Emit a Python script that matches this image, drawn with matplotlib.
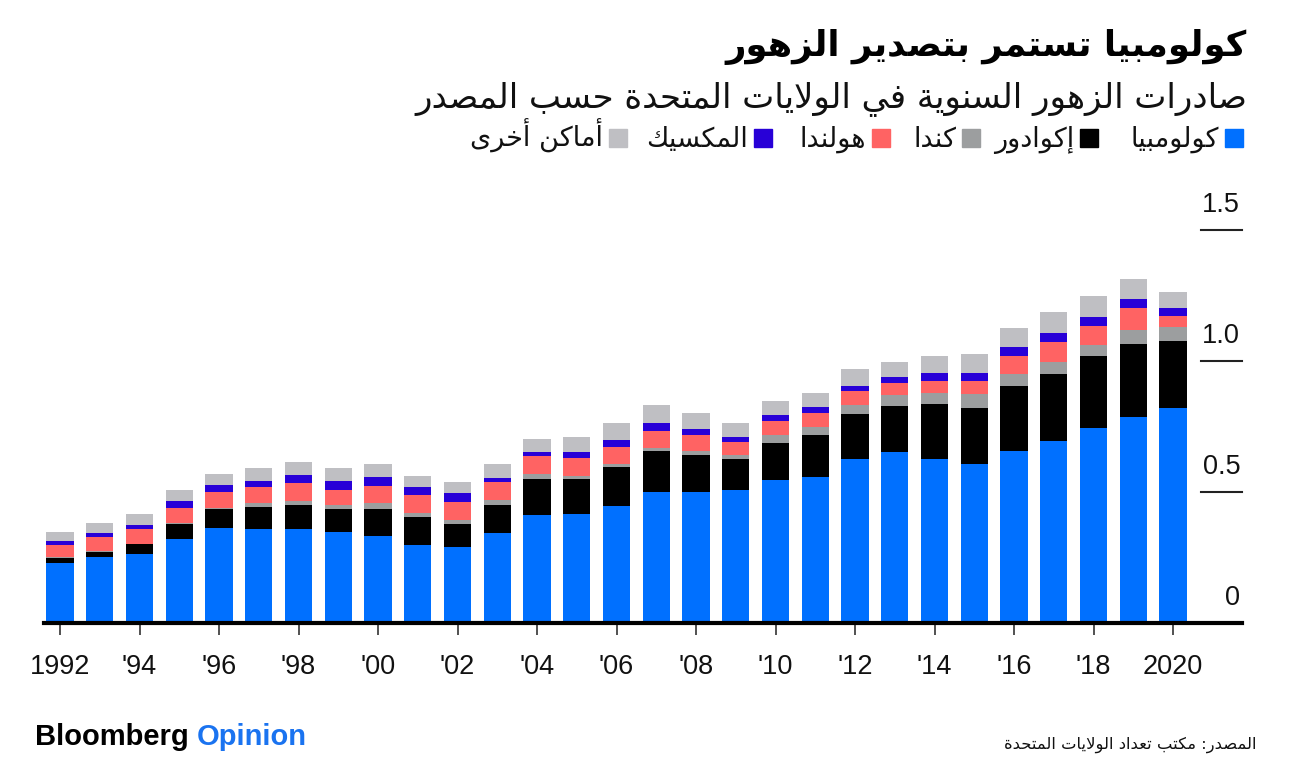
import matplotlib
matplotlib.use("Agg")
import matplotlib.pyplot as plt
from matplotlib.patches import Rectangle
from matplotlib.transforms import blended_transform_factory, offset_copy

# data (billion $)
years = list(range(1992, 2021))
colombia = [0.230, 0.253, 0.263, 0.319, 0.364, 0.359, 0.359, 0.346, 0.333, 0.298,
            0.290, 0.343, 0.411, 0.416, 0.447, 0.501, 0.501, 0.508, 0.546, 0.558,
            0.627, 0.654, 0.625, 0.608, 0.658, 0.696, 0.743, 0.786, 0.819]
ecuador = [0.018, 0.018, 0.037, 0.059, 0.070, 0.082, 0.093, 0.088, 0.101, 0.108,
           0.087, 0.107, 0.139, 0.135, 0.147, 0.154, 0.140, 0.118, 0.140, 0.160,
           0.171, 0.175, 0.212, 0.213, 0.247, 0.256, 0.277, 0.278, 0.256]
canada = [0.003, 0.004, 0.003, 0.004, 0.006, 0.016, 0.014, 0.015, 0.023, 0.015,
          0.016, 0.019, 0.019, 0.010, 0.013, 0.012, 0.017, 0.015, 0.032, 0.031,
          0.034, 0.041, 0.040, 0.052, 0.045, 0.045, 0.040, 0.055, 0.053]
netherlands = [0.047, 0.053, 0.056, 0.057, 0.061, 0.061, 0.067, 0.060, 0.067, 0.066,
               0.070, 0.069, 0.068, 0.070, 0.066, 0.067, 0.061, 0.049, 0.054, 0.054,
               0.053, 0.047, 0.047, 0.049, 0.070, 0.077, 0.075, 0.084, 0.044]
mexico = [0.016, 0.017, 0.015, 0.025, 0.025, 0.023, 0.031, 0.032, 0.032, 0.033,
          0.032, 0.017, 0.017, 0.023, 0.024, 0.031, 0.023, 0.021, 0.022, 0.023,
          0.021, 0.023, 0.031, 0.033, 0.035, 0.032, 0.033, 0.032, 0.031]
others = [0.035, 0.038, 0.042, 0.044, 0.043, 0.051, 0.051, 0.051, 0.051, 0.042,
          0.043, 0.052, 0.048, 0.056, 0.065, 0.067, 0.058, 0.051, 0.053, 0.053,
          0.063, 0.056, 0.064, 0.072, 0.072, 0.081, 0.080, 0.078, 0.059]

series_names = ["كولومبيا", "إكوادور", "كندا", "هولندا", "المكسيك", "أماكن أخرى"]
series_values = [colombia, ecuador, canada, netherlands, mexico, others]
colors = ["#0070ff", "#000000", "#9c9e9f", "#ff6363", "#2800d7", "#bfbfc3"]

xtick_years = list(range(1992, 2021, 2))
xtick_labels = ["1992", "'94", "'96", "'98", "'00", "'02", "'04", "'06", "'08",
                "'10", "'12", "'14", "'16", "'18", "2020"]
ytick_values = [0, 0.5, 1.0, 1.5]
ytick_labels = ["0", "0.5", "1.0", "1.5"]

title = "كولومبيا تستمر بتصدير الزهور"
subtitle = "صادرات الزهور السنوية في الولايات المتحدة حسب المصدر"
source = "المصدر: مكتب تعداد الولايات المتحدة"

# matplotlib has no arabic shaping: pick presentation forms and reverse
FORMS = {
    'ء': (0xFE80, 1), 'آ': (0xFE81, 2), 'أ': (0xFE83, 2), 'ؤ': (0xFE85, 2),
    'إ': (0xFE87, 2), 'ئ': (0xFE89, 4), 'ا': (0xFE8D, 2), 'ب': (0xFE8F, 4),
    'ة': (0xFE93, 2), 'ت': (0xFE95, 4), 'ث': (0xFE99, 4), 'ج': (0xFE9D, 4),
    'ح': (0xFEA1, 4), 'خ': (0xFEA5, 4), 'د': (0xFEA9, 2), 'ذ': (0xFEAB, 2),
    'ر': (0xFEAD, 2), 'ز': (0xFEAF, 2), 'س': (0xFEB1, 4), 'ش': (0xFEB5, 4),
    'ص': (0xFEB9, 4), 'ض': (0xFEBD, 4), 'ط': (0xFEC1, 4), 'ظ': (0xFEC5, 4),
    'ع': (0xFEC9, 4), 'غ': (0xFECD, 4), 'ف': (0xFED1, 4), 'ق': (0xFED5, 4),
    'ك': (0xFED9, 4), 'ل': (0xFEDD, 4), 'م': (0xFEE1, 4), 'ن': (0xFEE5, 4),
    'ه': (0xFEE9, 4), 'و': (0xFEED, 2), 'ى': (0xFEEF, 2), 'ي': (0xFEF1, 4),
}
LAM_ALEF = {'آ': 0xFEF5, 'أ': 0xFEF7, 'إ': 0xFEF9, 'ا': 0xFEFB}


def shape(s):
    out = []
    prev = None
    i = 0
    while i < len(s):
        c = s[i]
        if c not in FORMS:
            out.append(c)
            prev = None
            i += 1
            continue
        link_prev = prev is not None and FORMS[prev][1] == 4
        nxt = s[i + 1] if i + 1 < len(s) else None
        if c == 'ل' and nxt in LAM_ALEF:
            out.append(chr(LAM_ALEF[nxt] + (1 if link_prev else 0)))
            prev = nxt
            i += 2
            continue
        base, nf = FORMS[c]
        link_next = nf == 4 and nxt in FORMS and FORMS[nxt][1] > 1
        if nf == 1:
            k = 0
        elif link_prev and link_next:
            k = 3
        elif link_prev:
            k = 1
        elif link_next:
            k = 2
        else:
            k = 0
        out.append(chr(base + k))
        prev = c
        i += 1
    return ''.join(out[::-1])


W, H = 1297, 765
fig = plt.figure(figsize=(W / 100, H / 100), dpi=100)
renderer = fig.canvas.get_renderer()

# plot area: baseline at y=623, 1.5 line at y=230, x from 44 to 1242
ax = fig.add_axes([44 / W, 1 - 623 / H, (1242 - 44) / W, (623 - 230) / H])
ax.set_xlim(1992 - 16 / 39.75, 2020 + 69 / 39.75)
ax.set_ylim(0, 1.5)

bottom = [0.0] * len(years)
for vals, col in zip(series_values, colors):
    ax.bar(years, vals, width=0.68, bottom=bottom, color=col, linewidth=0, zorder=2)
    bottom = [b + v for b, v in zip(bottom, vals)]

for s in ["top", "left", "right"]:
    ax.spines[s].set_visible(False)
ax.spines["bottom"].set_linewidth(3)
ax.spines["bottom"].set_color("black")
ax.spines["bottom"].set_zorder(3)
ax.set_yticks([])
ax.set_xticks(xtick_years)
ax.set_xticklabels(xtick_labels, fontsize=19.5, family="Liberation Sans", color="#111111")
ax.tick_params(axis="x", length=8.5, width=1.2, color="#333333", pad=14)

# y labels sit above short rules at the right edge
tr = blended_transform_factory(ax.transAxes, ax.transData)
for v, lab in zip(ytick_values, ytick_labels):
    if v > 0:
        ax.plot([0.9658, 1.0], [v, v], transform=tr, color="#222222", lw=1.5,
                clip_on=False, zorder=3)
    ax.text(0.9985, v, lab, transform=offset_copy(tr, fig=fig, y=12.8, units="points"),
            ha="right", va="baseline", fontsize=19.5, family="Liberation Sans",
            color="#111111")


def fit_text(x, y, s, width, size, **kw):
    t = fig.text(x / W, 1 - y / H, shape(s), size=size, family="DejaVu Sans",
                 ha="right", va="baseline", **kw)
    w = t.get_window_extent(renderer=renderer).width
    t.set_fontsize(size * width / w)
    return t


fit_text(1247, 56, title, 524, 24, weight="bold", color="black")
fit_text(1247, 107, subtitle, 835, 24, color="#111111")

# legend: squares to the right of each label
square_right = [1243, 1098, 980, 890, 772, 627]
for name, col, xr in zip(series_names, colors, square_right):
    fig.patches.append(Rectangle(((xr - 18) / W, 1 - 147 / H), 18 / W, 18 / H,
                                 transform=fig.transFigure, color=col, figure=fig))
    fig.text((xr - 24) / W, 1 - 147 / H, shape(name), size=19.5, family="DejaVu Sans",
             ha="right", va="baseline", color="#111111")

fig.text(35 / W, 1 - 745 / H, "Bloomberg", size=21, weight="bold",
         family="Liberation Sans", color="black", va="baseline")
fig.text(197 / W, 1 - 745 / H, "Opinion", size=21, weight="bold",
         family="Liberation Sans", color="#1a73f0", va="baseline")
fit_text(1257, 749, source, 252, 11, color="#111111")

fig.savefig("out.png", dpi=100)
